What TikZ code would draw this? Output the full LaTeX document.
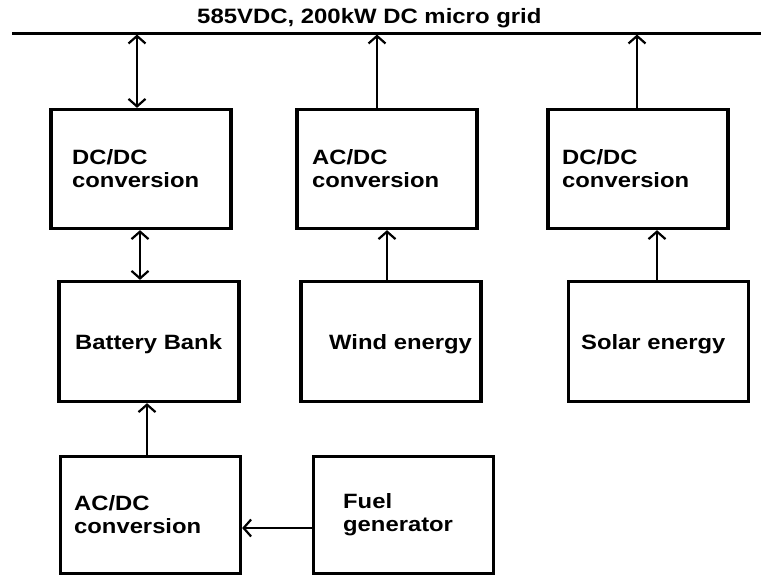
\documentclass[tikz,border=0pt]{standalone}
\usepackage{fontspec}
\setmainfont{Liberation Sans}[FakeStretch=1.15]
\usetikzlibrary{arrows.meta}
\tikzset{
  box/.style={draw, line width=3.3pt, rectangle, inner sep=0pt, minimum width=180pt, minimum height=119pt},
  lbl/.style={inner sep=0pt, align=left, font=\fontsize{20.7}{23}\selectfont\bfseries, anchor=west},
  conn/.style={line width=2pt, -{Straight Barb[length=7.5pt,width=17pt,line width=2.2pt]}},
  dconn/.style={line width=2pt, {Straight Barb[length=7.5pt,width=17pt,line width=2.2pt]}-{Straight Barb[length=7.5pt,width=17pt,line width=2.2pt]}},
}
\begin{document}
\begin{tikzpicture}[x=1pt,y=-1pt]
\useasboundingbox[fill=white] (0,0) rectangle (761,579);
% title and grid bus
\node[inner sep=0pt, anchor=base west, font=\fontsize{20.8}{23}\selectfont\bfseries] (title) at (197,23) {585VDC, 200kW DC micro grid};
\coordinate (busL) at (12,33);
\coordinate (busR) at (761,33);
\draw[line width=3pt] (busL) -- (busR);
% boxes
\node[box] (dc1) at (141,169) {};
\node[box] (acdc1) at (387,169) {};
\node[box] (dc2) at (638,169) {};
\node[box, minimum height=120pt] (bat) at (149,341.5) {};
\node[box, minimum height=120pt] (wind) at (391,341.5) {};
\node[box, minimum height=120pt] (solar) at (658.5,341.5) {};
\node[box, minimum height=117pt] (acdc2) at (150.5,515) {};
\node[box, minimum height=117pt] (fuel) at (403.5,515) {};
% labels
\node[lbl] (t1) at (72,169) {DC/DC\\conversion};
\node[lbl] (t2) at (312,169) {AC/DC\\conversion};
\node[lbl] (t3) at (562,169) {DC/DC\\conversion};
\node[lbl] (t4) at (75,344) {Battery Bank};
\node[lbl] (t5) at (329,344) {Wind energy};
\node[lbl] (t6) at (581,344) {Solar energy};
\node[lbl] (t7) at (74,514.5) {AC/DC\\conversion};
\node[lbl] (t8) at (343,514.5) {Fuel\\generator};
% bus tap points
\coordinate (g1) at (137,34.5);
\coordinate (g2) at (377,34.5);
\coordinate (g3) at (637,34.5);
% connectors
\draw[dconn] (g1) -- (g1 |- dc1.north);
\draw[conn] (g2 |- acdc1.north) -- (g2);
\draw[conn] (g3 |- dc2.north) -- (g3);
\draw[dconn] ([xshift=-1pt]dc1.south) -- ([xshift=-1pt]dc1.south |- bat.north);
\draw[conn] (wind.north -| acdc1.south) -- (acdc1.south);
\draw[conn] ([xshift=-1.5pt]solar.north) -- ([xshift=-1.5pt]solar.north |- dc2.south);
\draw[conn] ([xshift=-3.5pt]acdc2.north) -- ([xshift=-3.5pt]acdc2.north |- bat.south);
\draw[conn] ([yshift=-13pt]fuel.west) -- ([yshift=-13pt]fuel.west -| acdc2.east);
\end{tikzpicture}
\end{document}
